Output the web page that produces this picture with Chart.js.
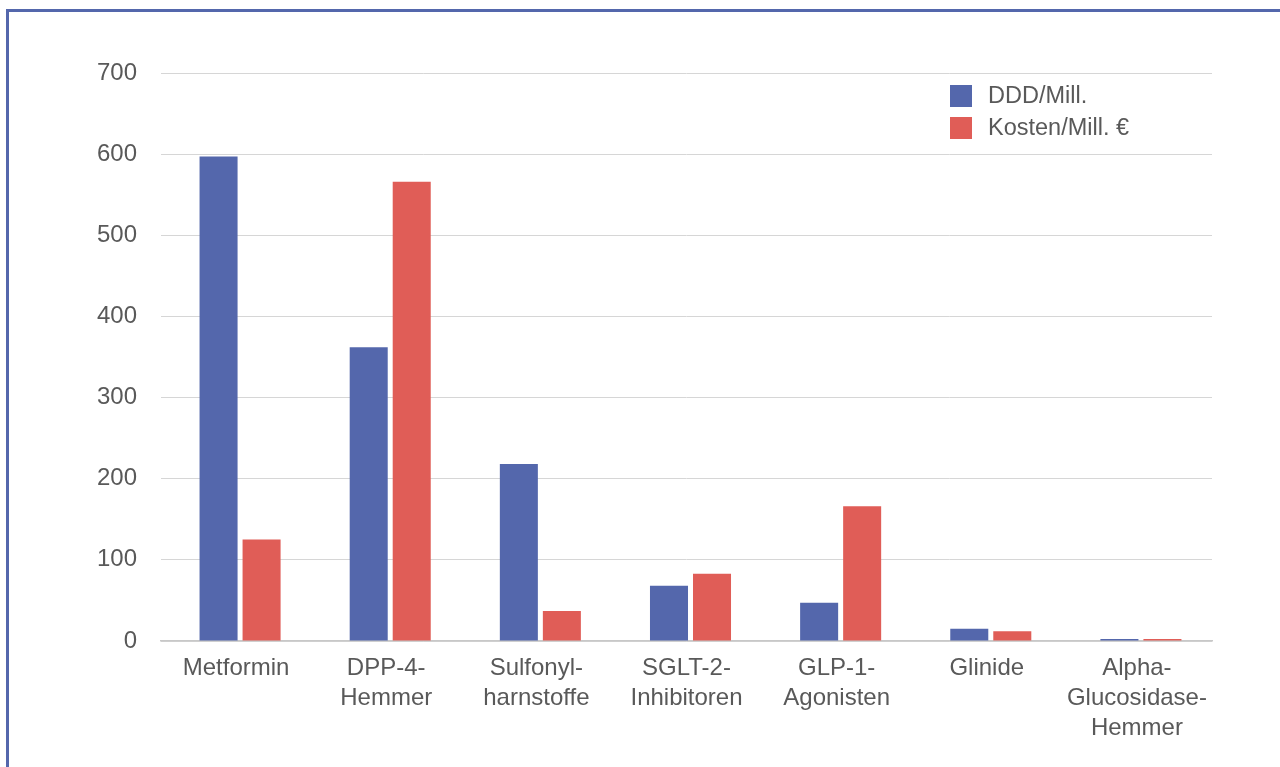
<!DOCTYPE html>
<html>
<head>
<meta charset="utf-8">
<script src="https://cdn.jsdelivr.net/npm/chart.js@4"></script>
<style>
  body { margin: 0; background: #fff; overflow: hidden; }
  #frame {
    position: absolute; left: 6px; top: 9px;
    width: 1280px; height: 770px;
    border-left: 3px solid #5467ac; border-top: 3px solid #5467ac;
  }
  #chart { display: block; }
</style>
</head>
<body>
<div id="frame"><canvas id="chart" width="1271" height="755"></canvas></div>
<script>
// categories, two series
const categories = [
    'Metformin',
    ['DPP-4-', 'Hemmer'],
    ['Sulfonyl-', 'harnstoffe'],
    ['SGLT-2-', 'Inhibitoren'],
    ['GLP-1-', 'Agonisten'],
    'Glinide',
    ['Alpha-', 'Glucosidase-', 'Hemmer']
];
const seriesNames = ['DDD/Mill.', 'Kosten/Mill. €'];
const dddValues = [597, 362, 218, 68, 47, 15, 2.5];
const kostenValues = [125, 566, 37, 83, 166, 12, 2.5];
const yTicks = [0, 100, 200, 300, 400, 500, 600, 700];

const blue = '#5467ac';
const red = '#e05d57';
const textColor = '#595959';
const fontFamily = '"Liberation Sans", Arial, sans-serif';

// legend drawn inside the plot, top right
const insideLegend = {
    id: 'insideLegend',
    afterDraw(chart) {
        const ctx = chart.ctx;
        const area = chart.chartArea;
        const x = area.right - 262;
        let y = area.top + 12;
        ctx.save();
        ctx.font = '23.5px ' + fontFamily;
        ctx.textBaseline = 'middle';
        chart.data.datasets.forEach(ds => {
            ctx.fillStyle = ds.backgroundColor;
            ctx.fillRect(x, y, 22, 22);
            ctx.fillStyle = textColor;
            ctx.fillText(ds.label, x + 38, y + 12);
            y += 32;
        });
        ctx.restore();
    }
};

// bars sit a few px right of the category centre in the original
const barShift = {
    id: 'barShift',
    beforeDatasetsDraw(chart) { chart.ctx.save(); chart.ctx.translate(4, 0); },
    afterDatasetsDraw(chart) { chart.ctx.restore(); }
};

const chartField = document.getElementById('chart');
const chart = new Chart(chartField, {
    type: 'bar',
    data: {
        labels: categories,
        datasets: [
            { label: seriesNames[0], data: dddValues, backgroundColor: blue },
            { label: seriesNames[1], data: kostenValues, backgroundColor: red }
        ]
    },
    options: {
        responsive: false,
        animation: false,
        categoryPercentage: 0.573,
        barPercentage: 0.884,
        layout: { padding: { top: 61, right: 68, bottom: 0, left: 0 } },
        plugins: {
            legend: { display: false },
            tooltip: { enabled: false }
        },
        scales: {
            x: {
                grid: { display: false, drawTicks: false },
                border: { display: true, color: '#c8c8c8', width: 1.5 },
                ticks: {
                    color: textColor,
                    font: { family: fontFamily, size: 24, lineHeight: 1.25 },
                    padding: 12,
                    maxRotation: 0,
                    autoSkip: false
                },
                afterFit(scale) { scale.height = 126; }
            },
            y: {
                min: 0,
                max: 700,
                afterBuildTicks(scale) { scale.ticks = yTicks.map(v => ({ value: v })); },
                grid: { color: '#d6d6d6', lineWidth: 1, drawTicks: false },
                border: { display: false },
                ticks: {
                    color: textColor,
                    font: { family: fontFamily, size: 24 },
                    padding: 24
                },
                afterFit(scale) { scale.width = 152; }
            }
        }
    },
    plugins: [insideLegend, barShift]
});
</script>
</body>
</html>
